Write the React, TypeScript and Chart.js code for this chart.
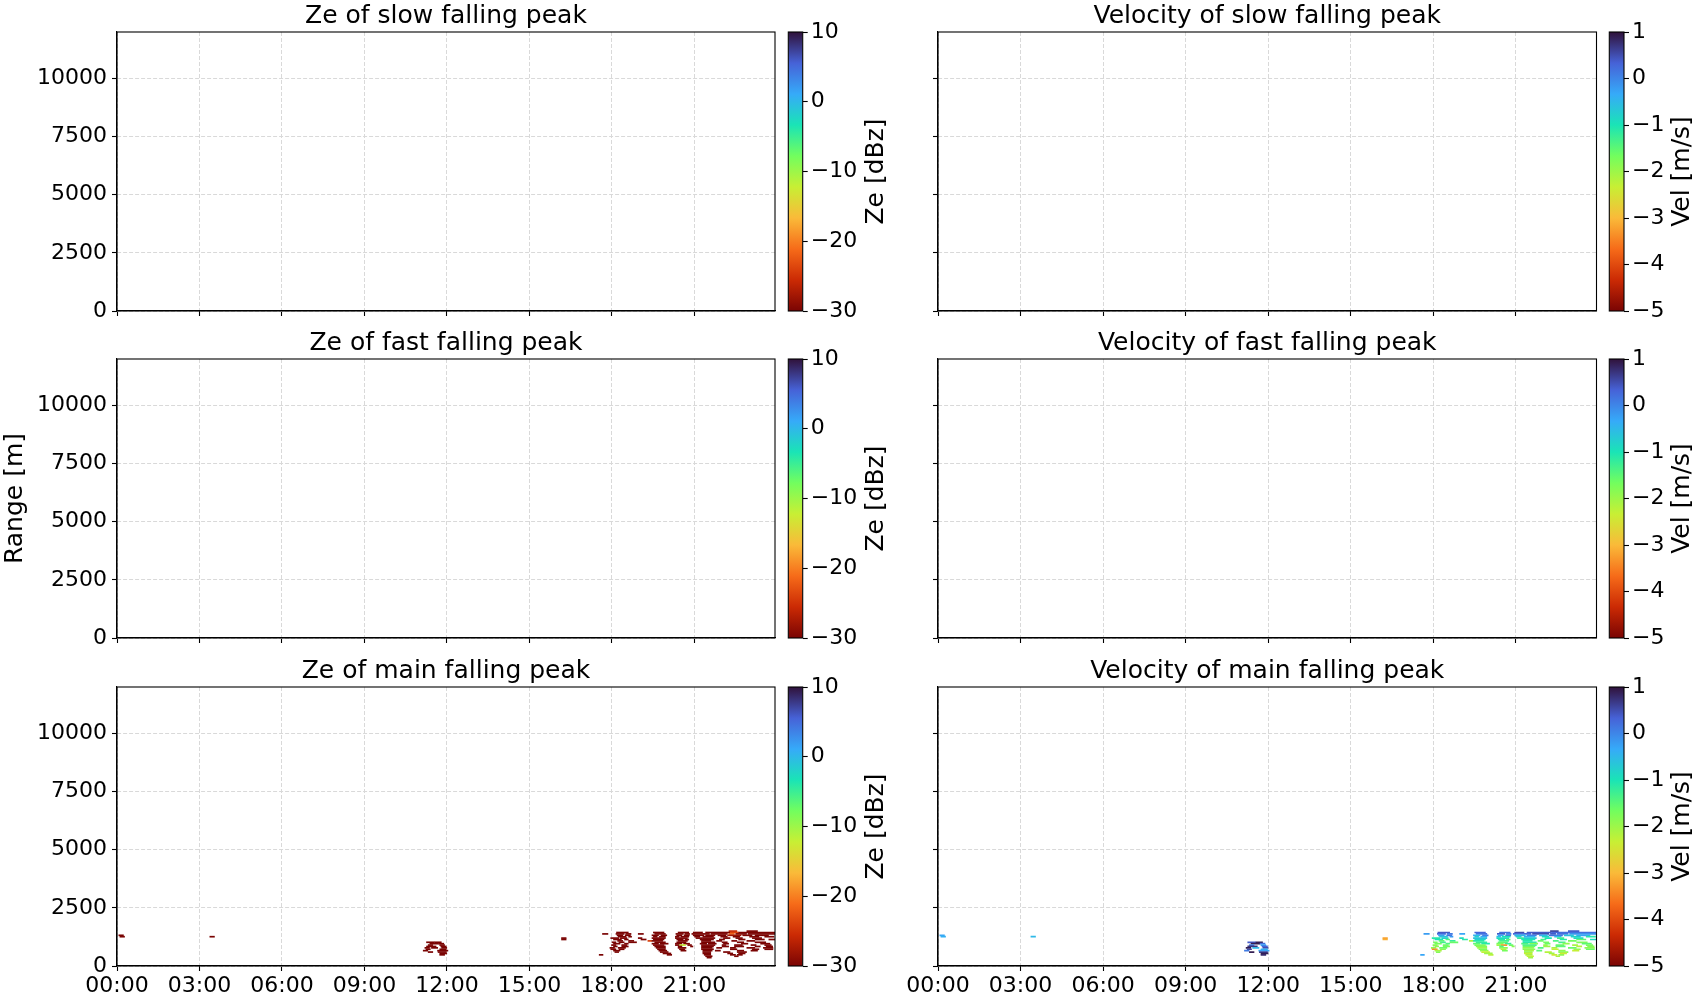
import React, { useEffect, useRef } from 'react';
import { Chart, registerables } from 'chart.js';

Chart.register(...registerables);
Chart.defaults.font.family = '"DejaVu Sans", sans-serif';
Chart.defaults.color = '#000';

// [start hour, end hour, range gate (m), Ze (dBz), velocity (m/s)]
type Echo = [number, number, number, number, number];

const hourTicks = [0, 3, 6, 9, 12, 15, 18, 21];
const rangeTicks = [0, 2500, 5000, 7500, 10000];
const zeTicks = [-30, -20, -10, 0, 10];
const velTicks = [-5, -4, -3, -2, -1, 0, 1];
const timeMax = 23.93;
const rangeMax = 12000;
const zeLimits: [number, number] = [-30, 10];
const velLimits: [number, number] = [-5, 1];

const rowTitles = [
  ['Ze of slow falling peak', 'Velocity of slow falling peak'],
  ['Ze of fast falling peak', 'Velocity of fast falling peak'],
  ['Ze of main falling peak', 'Velocity of main falling peak'],
];

const turboStops = ['#30123b', '#4662d7', '#36aaf9', '#1ae4b6', '#72fe5e', '#c8ef34', '#faba39', '#f66b19', '#cb2a04', '#7a0403'];

const slowPeakEchoes: Echo[] = [];
const fastPeakEchoes: Echo[] = [];

const earlyEchoes: Echo[] = [
  [0.06, 0.24, 1320, -30, -0.3],
  [0.1, 0.28, 1260, -30, -0.4],
  [3.37, 3.55, 1260, -30, -0.5],
  [16.16, 16.34, 1200, -30, -3.2],
  [16.16, 16.34, 1140, -30, -3.1],
];

const noonEchoes: Echo[] = [
  [11.25, 11.55, 1020, -30, 0.4],
  [11.55, 11.8, 1020, -30, 0.9],
  [11.37, 11.7, 960, -30, 0.9],
  [11.7, 11.89, 960, -30, 0.2],
  [11.31, 11.49, 900, -30, 0.1],
  [11.73, 11.92, 900, -30, -0.3],
  [11.25, 11.61, 840, -30, 0.7],
  [11.77, 11.98, 840, -30, 0.3],
  [11.19, 11.37, 780, -30, 0.9],
  [11.43, 11.67, 780, -30, -0.5],
  [11.8, 12.0, 780, -30, 0.5],
  [11.23, 11.4, 720, -30, 0.6],
  [11.73, 11.98, 720, -30, -0.4],
  [11.13, 11.31, 660, -30, 0.1],
  [11.65, 12.04, 660, -30, -0.3],
  [11.31, 11.49, 600, -30, 0.9],
  [11.67, 11.98, 600, -30, 0.6],
  [11.73, 12.0, 540, -30, 0.9],
  [11.73, 11.92, 480, -30, 0.8],
];

const eveningEchoes: Echo[] = [
  [22.25, 22.55, 1500, -26, 0.6],
  [22.9, 23.3, 1500, -30, 0.4],
  [18.16, 18.6, 1440, -30, 0.4],
  [19.5, 19.9, 1440, -30, 0.3],
  [20.4, 20.8, 1440, -30, 0.2],
  [20.95, 21.3, 1440, -30, 0.5],
  [21.4, 22.3, 1440, -30, 0.4],
  [22.3, 22.6, 1440, -24, 0.3],
  [22.6, 23.93, 1440, -30, 0.2],
  [17.65, 17.86, 1380, -30, -0.2],
  [18.14, 18.45, 1380, -30, 0.3],
  [18.5, 18.7, 1380, -30, 0.1],
  [18.95, 19.15, 1380, -30, -0.3],
  [19.55, 19.95, 1380, -30, 0.2],
  [20.32, 20.6, 1380, -30, 0.4],
  [20.65, 20.83, 1380, -30, 0.0],
  [20.9, 21.55, 1380, -30, 0.3],
  [21.6, 22.2, 1380, -30, 0.5],
  [22.25, 22.45, 1380, -22, 0.4],
  [22.5, 22.9, 1380, -30, 0.2],
  [22.95, 23.93, 1380, -30, -0.1],
  [18.18, 18.4, 1320, -30, -0.2],
  [18.48, 18.68, 1320, -30, 0.2],
  [19.45, 19.7, 1320, -30, -0.4],
  [19.78, 20.0, 1320, -30, 0.1],
  [20.35, 20.55, 1320, -30, -0.3],
  [20.62, 20.82, 1320, -30, 0.2],
  [20.95, 21.35, 1320, -30, -0.5],
  [21.4, 21.75, 1320, -30, 0.1],
  [21.85, 22.15, 1320, -30, -0.4],
  [22.2, 22.7, 1320, -28, 0.2],
  [22.75, 23.1, 1320, -30, -0.6],
  [23.2, 23.7, 1320, -30, -0.3],
  [18.22, 18.52, 1260, -30, -0.6],
  [18.6, 18.72, 1260, -30, -0.2],
  [19.5, 19.65, 1260, -30, -0.8],
  [19.72, 19.95, 1260, -30, -0.3],
  [20.3, 20.45, 1260, -30, -0.5],
  [20.5, 20.8, 1260, -30, -1.0],
  [21.0, 21.2, 1260, -30, -0.7],
  [21.3, 21.7, 1260, -30, -0.4],
  [21.95, 22.2, 1260, -30, -0.9],
  [22.4, 22.65, 1260, -30, -0.5],
  [23.0, 23.35, 1260, -30, -0.8],
  [23.55, 23.9, 1260, -30, -1.1],
  [17.95, 18.25, 1200, -30, -1.1],
  [18.3, 18.55, 1200, -30, -0.8],
  [18.95, 19.1, 1200, -30, -0.9],
  [19.45, 19.95, 1200, -30, -0.6],
  [20.3, 20.75, 1200, -30, -0.9],
  [21.05, 21.3, 1200, -30, -1.2],
  [21.3, 21.75, 1200, -30, -0.7],
  [22.05, 22.3, 1200, -30, -1.0],
  [22.5, 22.75, 1200, -30, -1.3],
  [23.1, 23.45, 1200, -30, -0.9],
  [18.05, 18.35, 1140, -30, -1.0],
  [18.45, 18.6, 1140, -30, -1.4],
  [19.05, 19.25, 1140, -30, -1.1],
  [19.5, 19.9, 1140, -30, -0.8],
  [20.35, 20.6, 1140, -30, -1.1],
  [20.65, 20.8, 1140, -30, -1.5],
  [21.2, 21.7, 1140, -30, -1.0],
  [21.9, 22.1, 1140, -30, -1.3],
  [22.6, 22.85, 1140, -30, -1.1],
  [23.2, 23.55, 1140, -30, -1.5],
  [23.7, 23.93, 1140, -30, -0.9],
  [18.2, 18.4, 1080, -30, -1.5],
  [18.6, 18.8, 1080, -30, -1.2],
  [19.3, 19.45, 1080, -24, -2.1],
  [19.45, 19.85, 1080, -30, -1.1],
  [20.4, 20.75, 1080, -30, -1.3],
  [21.25, 21.6, 1080, -30, -1.1],
  [21.8, 22.0, 1080, -30, -1.6],
  [22.35, 22.55, 1080, -30, -1.4],
  [22.9, 23.2, 1080, -30, -1.7],
  [18.0, 18.15, 1020, -30, -1.7],
  [18.25, 18.45, 1020, -30, -1.3],
  [18.6, 18.9, 1020, -30, -1.6],
  [19.55, 19.95, 1020, -30, -1.2],
  [20.35, 20.7, 1020, -30, -1.5],
  [21.25, 21.75, 1020, -30, -1.0],
  [22.0, 22.2, 1020, -30, -1.7],
  [22.55, 22.8, 1020, -30, -1.3],
  [23.2, 23.6, 1020, -30, -1.8],
  [18.05, 18.3, 960, -30, -1.7],
  [18.45, 18.6, 960, -30, -1.4],
  [19.45, 19.7, 960, -30, -1.5],
  [19.75, 20.05, 960, -30, -1.1],
  [20.3, 20.55, 960, -30, -1.7],
  [20.6, 20.83, 960, -30, -1.2],
  [21.2, 21.45, 960, -30, -1.4],
  [21.5, 21.8, 960, -30, -1.8],
  [22.05, 22.25, 960, -30, -1.6],
  [22.7, 22.95, 960, -30, -1.9],
  [23.4, 23.75, 960, -30, -1.5],
  [17.98, 18.15, 900, -30, -1.8],
  [18.35, 18.55, 900, -30, -1.6],
  [19.5, 19.9, 900, -30, -1.7],
  [20.3, 20.45, 900, -30, -2.0],
  [20.46, 20.68, 900, -12, -3.3],
  [20.75, 20.9, 900, -30, -1.6],
  [21.25, 21.75, 900, -30, -1.3],
  [22.0, 22.15, 900, -30, -1.9],
  [22.45, 22.75, 900, -30, -1.6],
  [23.05, 23.25, 900, -30, -2.1],
  [23.55, 23.8, 900, -30, -1.7],
  [18.05, 18.2, 840, -30, -1.9],
  [18.35, 18.6, 840, -30, -1.7],
  [19.55, 19.95, 840, -30, -1.8],
  [20.4, 20.55, 840, -30, -1.4],
  [20.85, 20.95, 840, -30, -1.8],
  [21.25, 21.7, 840, -30, -1.6],
  [22.0, 22.25, 840, -30, -2.0],
  [22.45, 22.8, 840, -30, -1.5],
  [23.2, 23.4, 840, -30, -2.2],
  [23.6, 23.85, 840, -30, -1.8],
  [17.92, 18.1, 780, -30, -1.9],
  [18.22, 18.5, 780, -30, -1.6],
  [19.6, 19.95, 780, -30, -2.0],
  [20.4, 20.7, 780, -30, -1.8],
  [21.25, 21.65, 780, -30, -1.9],
  [21.8, 22.0, 780, -30, -1.4],
  [22.3, 22.5, 780, -30, -2.1],
  [22.9, 23.2, 780, -30, -1.6],
  [23.5, 23.86, 780, -30, -1.9],
  [17.95, 18.15, 720, -30, -3.4],
  [18.25, 18.45, 720, -30, -1.8],
  [19.65, 19.95, 720, -30, -1.7],
  [20.45, 20.65, 720, -30, -2.2],
  [21.25, 21.7, 720, -30, -1.8],
  [22.3, 22.55, 720, -30, -2.3],
  [23.1, 23.35, 720, -30, -1.9],
  [23.55, 23.86, 720, -30, -1.6],
  [18.05, 18.3, 660, -30, -2.1],
  [19.7, 20.0, 660, -30, -1.9],
  [20.5, 20.7, 660, -30, -1.7],
  [21.3, 21.65, 660, -30, -2.1],
  [21.75, 21.95, 660, -30, -1.5],
  [22.55, 22.8, 660, -30, -1.9],
  [23.05, 23.3, 660, -30, -2.3],
  [18.1, 18.25, 600, -30, -1.8],
  [19.75, 20.05, 600, -30, -2.3],
  [21.3, 21.6, 600, -30, -1.9],
  [22.05, 22.3, 600, -30, -2.2],
  [22.55, 22.9, 600, -30, -1.8],
  [19.85, 20.15, 540, -30, -2.0],
  [21.3, 21.6, 540, -30, -2.3],
  [22.2, 22.4, 540, -30, -2.0],
  [22.6, 22.85, 540, -30, -2.4],
  [17.53, 17.68, 480, -30, -0.3],
  [20.0, 20.18, 480, -30, -2.2],
  [21.35, 21.6, 480, -30, -2.1],
  [22.3, 22.5, 480, -30, -2.4],
  [22.55, 22.75, 480, -30, -1.9],
  [21.4, 21.65, 420, -30, -2.3],
  [22.45, 22.6, 420, -30, -2.1],
  [21.45, 21.62, 360, -30, -2.0],
];

const mainPeakEchoes: Echo[] = [...earlyEchoes, ...noonEchoes, ...eveningEchoes];
const rowEchoes = [slowPeakEchoes, fastPeakEchoes, mainPeakEchoes];

// ---------- colour map (turbo, reversed) ----------
const turboRgb = turboStops.map((h) => [1, 3, 5].map((k) => parseInt(h.slice(k, k + 2), 16)));
function turboR(v: number, lo: number, hi: number): string {
  let t = 1 - (v - lo) / (hi - lo);
  t = Math.max(0, Math.min(1, t));
  const p = t * (turboRgb.length - 1);
  const i = Math.min(turboRgb.length - 2, Math.floor(p));
  const f = p - i;
  const a = turboRgb[i];
  const b = turboRgb[i + 1];
  return `rgb(${a.map((c, k) => Math.round(c + (b[k] - c) * f)).join(',')})`;
}

const minusFmt = (v: number) => (v < 0 ? '\u2212' + Math.abs(v) : String(v));
const hourFmt = (v: number) => `${String(v).padStart(2, '0')}:00`;

const framePlugin = {
  id: 'frame',
  afterDraw(chart: any) {
    const { ctx, chartArea: a } = chart;
    ctx.save();
    ctx.strokeStyle = '#000';
    ctx.lineWidth = 1.1;
    ctx.strokeRect(a.left, a.top, a.right - a.left, a.bottom - a.top);
    ctx.restore();
  },
};

// ---------- geometry ----------
const plotTops = [32, 359, 687];
const TITLE_H = 32;
const PLOT_H = 279;
const XAXIS_H = 45;
const CANVAS_H = TITLE_H + PLOT_H + XAXIS_H;

const columns = [
  { canvasLeft: 0, canvasWidth: 781, yAxisWidth: 117, padRight: 6, cbLeft: 783, cbWidth: 117, cbPadLeft: 5.3, cbAxisWidth: 97.3, cbLabelX: 93, label: 'Ze [dBz]', limits: zeLimits, ticks: zeTicks, valueIndex: 3 },
  { canvasLeft: 898, canvasWidth: 705, yAxisWidth: 40, padRight: 6.5, cbLeft: 1604, cbWidth: 96, cbPadLeft: 5.3, cbAxisWidth: 76, cbLabelX: 78.3, label: 'Vel [m/s]', limits: velLimits, ticks: velTicks, valueIndex: 4 },
];

function ChartCanvas({ left, top, width, height, build }: { left: number; top: number; width: number; height: number; build: () => any }) {
  const ref = useRef<HTMLCanvasElement | null>(null);
  useEffect(() => {
    if (!ref.current) return;
    const chart = new Chart(ref.current, build());
    return () => chart.destroy();
  }, []);
  return (
    <canvas
      ref={ref}
      width={width}
      height={height}
      style={{ position: 'absolute', left, top, width, height }}
    />
  );
}

function panelConfig(row: number, col: number) {
  const c = columns[col];
  const [lo, hi] = c.limits;
  const echoes = rowEchoes[row];
  const showX = row === 2;
  const showY = col === 0;
  const titleText = rowTitles[row][col];
  const titlePlugin = {
    id: 'panelTitle',
    afterDraw(chart: any) {
      const { ctx, chartArea: a } = chart;
      ctx.save();
      ctx.font = '25px "DejaVu Sans", sans-serif';
      ctx.fillStyle = '#000';
      ctx.textAlign = 'center';
      ctx.textBaseline = 'alphabetic';
      ctx.fillText(titleText, (a.left + a.right) / 2, a.top - 8.8);
      ctx.restore();
    },
  };
  return {
    type: 'bar',
    data: {
      datasets: [
        {
          data: echoes.map((e) => ({ x: [e[0], e[1]], y: e[2], v: e[c.valueIndex] })),
          backgroundColor: (ctx: any) => (ctx.raw ? turboR(ctx.raw.v, lo, hi) : '#000'),
          borderWidth: 0,
          barPercentage: 1,
          categoryPercentage: 1,
          inflateAmount: 0.15,
        },
      ],
    },
    options: {
      indexAxis: 'y',
      animation: false,
      responsive: false,
      events: [],
      layout: { padding: { left: 0, right: c.padRight, top: TITLE_H, bottom: 0 } },
      plugins: {
        legend: { display: false },
        tooltip: { enabled: false },
        title: { display: false },
      },
      scales: {
        x: {
          type: 'linear',
          position: 'bottom',
          min: 0,
          max: timeMax,
          offset: false,
          afterBuildTicks: (s: any) => {
            s.ticks = hourTicks.map((value) => ({ value }));
          },
          afterFit: (s: any) => {
            s.height = XAXIS_H;
          },
          grid: { color: '#d9d9d9', lineWidth: 1, drawTicks: true, tickLength: 5, tickColor: '#000', tickWidth: 1.1, offset: false },
          border: { display: true, color: '#000', width: 1.1, dash: [4, 2] },
          ticks: { display: showX, autoSkip: false, maxRotation: 0, minRotation: 0, padding: 2, color: '#000', font: { size: 22 }, callback: (v: any) => hourFmt(v) },
        },
        y: {
          type: 'linear',
          position: 'left',
          min: 0,
          max: rangeMax,
          offset: false,
          afterBuildTicks: (s: any) => {
            s.ticks = rangeTicks.map((value) => ({ value }));
          },
          afterFit: (s: any) => {
            s.width = c.yAxisWidth;
          },
          grid: { color: '#d9d9d9', lineWidth: 1, drawTicks: true, tickLength: 5, tickColor: '#000', tickWidth: 1.1, offset: false },
          border: { display: true, color: '#000', width: 1.1, dash: [4, 2] },
          ticks: { display: showY, autoSkip: false, padding: 5, color: '#000', font: { size: 22 }, callback: (v: any) => String(v) },
          title: {
            display: row === 1 && col === 0,
            text: 'Range [m]',
            color: '#000',
            font: { size: 25, lineHeight: 1.2 },
            padding: 0,
          },
        },
      },
    },
    plugins: [framePlugin, titlePlugin],
  };
}

function colorbarConfig(col: number) {
  const c = columns[col];
  const [lo, hi] = c.limits;
  const labelPlugin = {
    id: 'cblabel',
    afterDraw(chart: any) {
      const { ctx, chartArea: a } = chart;
      ctx.save();
      ctx.translate(c.cbLabelX, (a.top + a.bottom) / 2);
      ctx.rotate(-Math.PI / 2);
      ctx.font = '25px "DejaVu Sans", sans-serif';
      ctx.fillStyle = '#000';
      ctx.textAlign = 'center';
      ctx.textBaseline = 'middle';
      ctx.fillText(c.label, 0, 0);
      ctx.restore();
    },
  };
  return {
    type: 'bar',
    data: {
      labels: ['scale'],
      datasets: [
        {
          data: [[lo, hi]],
          backgroundColor: (ctx: any) => {
            const a = ctx.chart.chartArea;
            if (!a) return '#000';
            const g = ctx.chart.ctx.createLinearGradient(0, a.bottom, 0, a.top);
            const n = turboStops.length - 1;
            turboStops.forEach((_, i) => g.addColorStop(i / n, turboStops[n - i]));
            return g;
          },
          borderWidth: 0,
          barPercentage: 1,
          categoryPercentage: 1,
          inflateAmount: 0,
        },
      ],
    },
    options: {
      animation: false,
      responsive: false,
      events: [],
      layout: { padding: { left: c.cbPadLeft, right: 0, top: TITLE_H, bottom: XAXIS_H } },
      plugins: { legend: { display: false }, tooltip: { enabled: false }, title: { display: false } },
      scales: {
        x: { display: false, offset: true },
        y: {
          type: 'linear',
          position: 'right',
          min: lo,
          max: hi,
          afterBuildTicks: (s: any) => {
            s.ticks = c.ticks.map((value) => ({ value }));
          },
          afterFit: (s: any) => {
            s.width = c.cbAxisWidth;
          },
          grid: { drawOnChartArea: false, drawTicks: true, tickLength: 5, tickColor: '#000', tickWidth: 1.1 },
          border: { display: false },
          ticks: { padding: 3, autoSkip: false, color: '#000', font: { size: 22 }, callback: (v: any) => minusFmt(v) },
        },
      },
    },
    plugins: [framePlugin, labelPlugin],
  };
}

export default function App() {
  const items: React.ReactNode[] = [];
  plotTops.forEach((pt, row) => {
    columns.forEach((c, col) => {
      items.push(
        <ChartCanvas
          key={`p${row}${col}`}
          left={c.canvasLeft}
          top={pt - TITLE_H}
          width={c.canvasWidth}
          height={CANVAS_H}
          build={() => panelConfig(row, col)}
        />
      );
      items.push(
        <ChartCanvas
          key={`c${row}${col}`}
          left={c.cbLeft}
          top={pt - TITLE_H}
          width={c.cbWidth}
          height={CANVAS_H}
          build={() => colorbarConfig(col)}
        />
      );
    });
  });
  return (
    <div style={{ position: 'fixed', left: 0, top: 0, width: 1700, height: 1000, background: '#fff', overflow: 'hidden' }}>
      {items}
    </div>
  );
}
